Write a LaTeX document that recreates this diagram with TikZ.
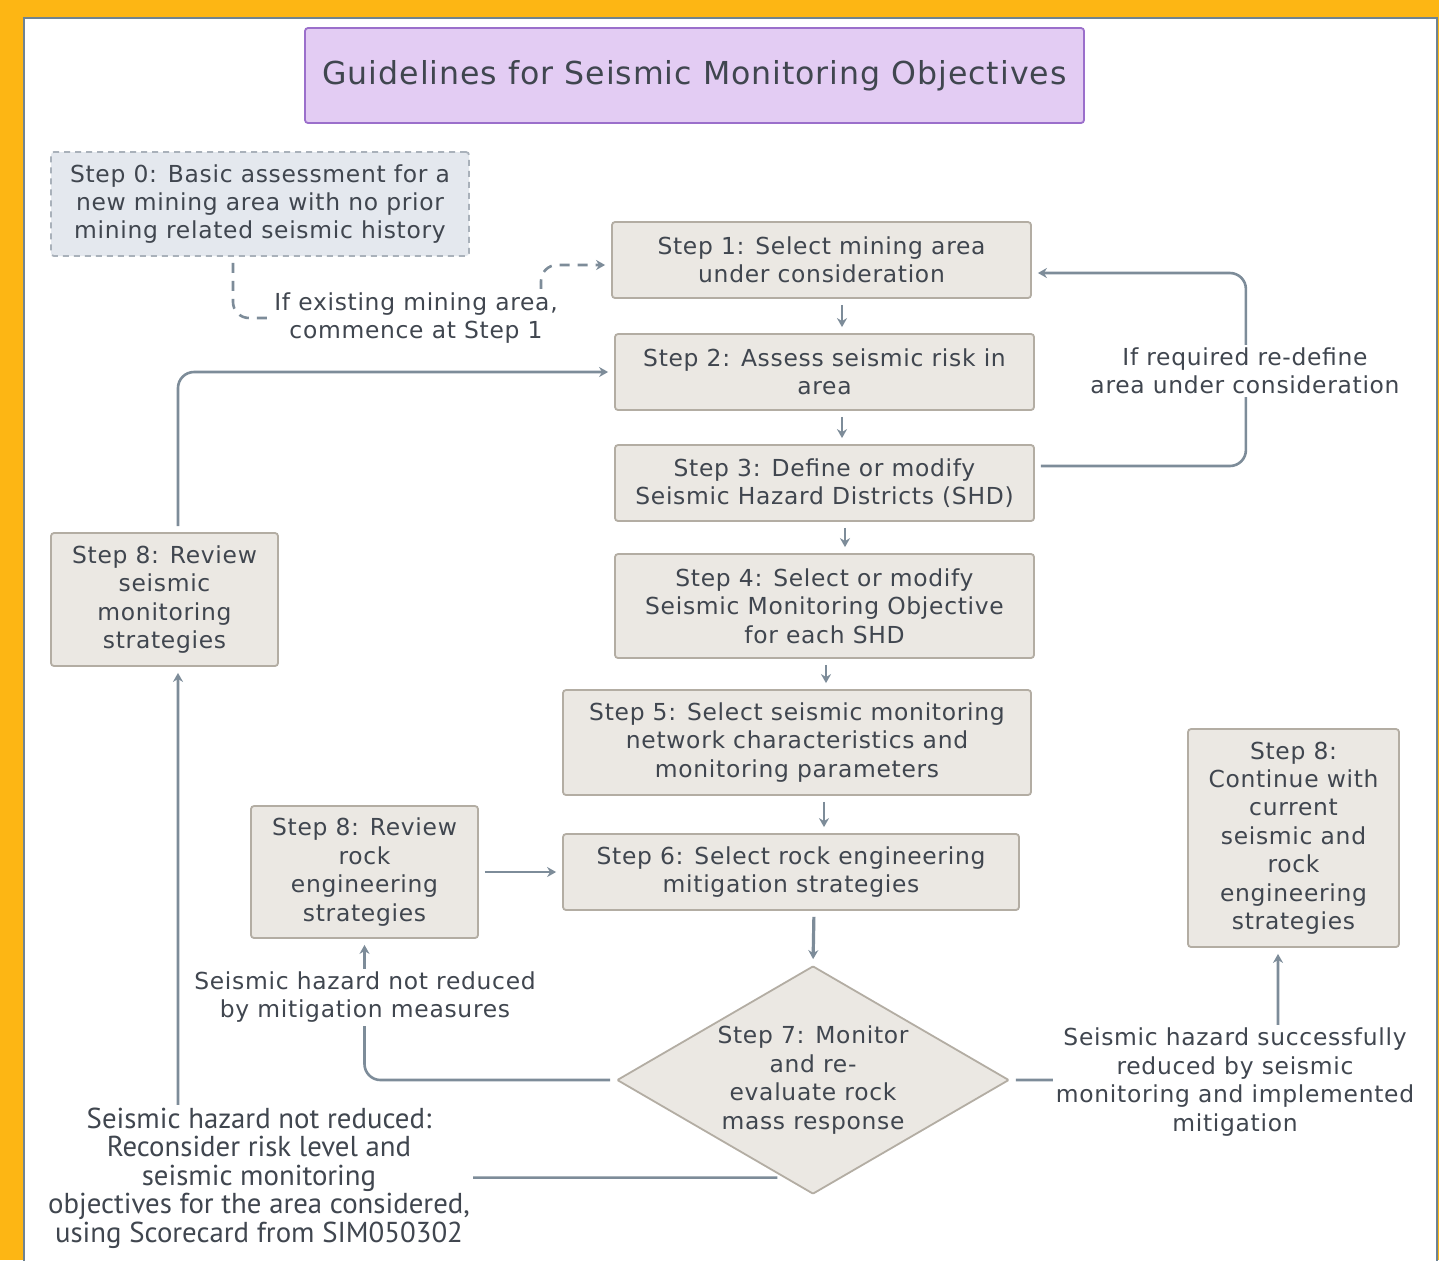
\documentclass[tikz,border=0pt]{standalone}
\usepackage{fontspec}
\setmainfont[LetterSpace=3]{DejaVu Sans}
\newfontfamily\notefont{PT Sans}
\usetikzlibrary{shapes.geometric,arrows.meta,calc,backgrounds}

\definecolor{frameorange}{HTML}{FDB614}
\definecolor{panelline}{HTML}{6F8391}
\definecolor{boxfill}{HTML}{EBE8E3}
\definecolor{boxline}{HTML}{B3ADA3}
\definecolor{startfill}{HTML}{E4E8EE}
\definecolor{startline}{HTML}{A9B1BA}
\definecolor{titlefill}{HTML}{E3CCF3}
\definecolor{titleline}{HTML}{9B6FCB}
\definecolor{linkgray}{HTML}{7D8C99}
\definecolor{txt}{HTML}{40464F}

\newcommand\stepfont{\fontsize{11.7}{14.2}\selectfont}

\tikzset{basic/.style={draw=boxline,fill=boxfill,line width=0.9pt,rounded corners=1.5pt,align=center,text=txt,inner sep=0pt,font=\stepfont}}
\tikzset{stepbox/.style={basic,rectangle}}
\tikzset{startbox/.style={basic,draw=startline,fill=startfill,dash pattern=on 3pt off 2.5pt}}
\tikzset{titlebox/.style={basic,draw=titleline,fill=titlefill,font=\fontsize{15.8}{18}\selectfont}}
\tikzset{decision/.style={basic,diamond,aspect=1.72,rounded corners=0.5pt}}
\tikzset{note/.style={fill=white,align=center,text=txt,inner sep=1.5pt,font=\stepfont}}
\tikzset{link/.style={draw=linkgray,line width=1.3pt,rounded corners=8pt,shorten <=3pt,shorten >=3pt}}

\begin{document}
\begin{tikzpicture}[x=0.5pt, y=-0.5pt, >={Stealth[length=4.5pt,width=5pt]}]
	\useasboundingbox (0,0) rectangle (1439,1260);
	
	% frame
	\begin{scope}[on background layer]
	  \fill[frameorange] (0,0) rectangle (1439,1260);
	  \filldraw[fill=white, draw=panelline, line width=0.8pt] (24,18) rectangle (1437,1275);
	\end{scope}
	
	\node[titlebox, minimum width=389.5pt, minimum height=47.5pt] (title) at (694.5,75.5) {Guidelines for Seismic Monitoring Objectives};
	
	% steps
	\node[startbox, minimum width=209pt, minimum height=52pt] (s0) at (260,204)
	  {Step 0: Basic assessment for a\\new mining area with no prior\\mining related seismic history};
	\node[stepbox, minimum width=209.5pt, minimum height=38pt] (s1) at (821.5,260)
	  {Step 1: Select mining area\\under consideration};
	\node[stepbox, minimum width=209.5pt, minimum height=38pt] (s2) at (824.5,372)
	  {Step 2: Assess seismic risk in\\area};
	\node[stepbox, minimum width=209.5pt, minimum height=38pt] (s3) at (824.5,483)
	  {Step 3: Define or modify\\Seismic Hazard Districts (SHD)};
	\node[stepbox, minimum width=209.5pt, minimum height=52pt] (s4) at (824.5,606)
	  {Step 4: Select or modify\\Seismic Monitoring Objective\\for each SHD};
	\node[stepbox, minimum width=234pt, minimum height=52.5pt] (s5) at (797,742.5)
	  {Step 5: Select seismic monitoring\\network characteristics and\\monitoring parameters};
	\node[stepbox, minimum width=228pt, minimum height=38pt] (s6) at (791,872)
	  {Step 6: Select rock engineering\\mitigation strategies};
	\node[decision, minimum width=196pt, minimum height=114pt] (s7) at (813,1080)
	  {Step 7: Monitor\\and re-\\evaluate rock\\mass response};
	\node[stepbox, minimum width=113.5pt, minimum height=66.5pt] (s8a) at (164.5,599.5)
	  {Step 8: Review\\seismic\\monitoring\\strategies};
	\node[stepbox, minimum width=113.5pt, minimum height=66pt] (s8b) at (364.5,872)
	  {Step 8: Review\\rock\\engineering\\strategies};
	\node[stepbox, minimum width=105.5pt, minimum height=109pt] (s8c) at (1293.5,838)
	  {Step 8:\\Continue with\\current\\seismic and\\rock\\engineering\\strategies};
	
	% labels on the links
	\node[note] (l0) at (416,318) {If existing mining area,\\commence at Step 1};
	\node[note] (l1) at (1245,371) {If required re-define\\area under consideration};
	\node[note] (l2) at (365,997) {Seismic hazard not reduced\\by mitigation measures};
	\node[note, font=\notefont\fontsize{14.4}{14.25}\selectfont] (l3) at (259,1178)
	  {Seismic hazard not reduced:\\Reconsider risk level and\\seismic monitoring\\objectives for the area considered,\\using Scorecard from SIM050302};
	\node[note] (l4) at (1235,1082) {Seismic hazard successfully\\reduced by seismic\\monitoring and implemented\\mitigation};
	
	\begin{scope}[on background layer]
	  % main chain
	  \foreach \a/\b/\da/\db in {s1/s2/10.25pt/8.75pt, s2/s3/8.75pt/8.75pt, s3/s4/10.25pt/10.25pt, s4/s5/0.75pt/14.5pt, s5/s6/13.5pt/16.5pt}
	    \draw[link,->] ([xshift=\da]\a.south) -- ([xshift=\db]\b.north);
	  \draw[link,->,line width=1.6pt] ([xshift=11.5pt]s6.south) -- (s7.north);
	
	  % step 0 -> step 1
	  \draw[link,->,dash pattern=on 5pt off 4pt] ([xshift=-13.5pt]s0.south) |- (541,318) |- ([yshift=-2.5pt]s1.west);
	
	  % loops back
	  \draw[link,->] ([yshift=8.5pt]s3.east) -- ++(105.5pt,0) |- ([yshift=-6.5pt]s1.east);
	  \draw[link,->] ([xshift=6.75pt]s8a.north) |- (s2.west);
	  \draw[link,->] (s8b.east) -- (s6.west);
	
	  % out of step 7
	  \coordinate (p7) at ($(s7.west)!0.85!(s7.south)$);
	  \draw[link,->] (s7.west) -| (s8b.south);
	  \draw[link,->] (p7) -| ([xshift=6.75pt]s8a.south);
	  \draw[link,->] (s7.east) -| ([xshift=-7.75pt]s8c.south);
	\end{scope}
	
\end{tikzpicture}
\end{document}
